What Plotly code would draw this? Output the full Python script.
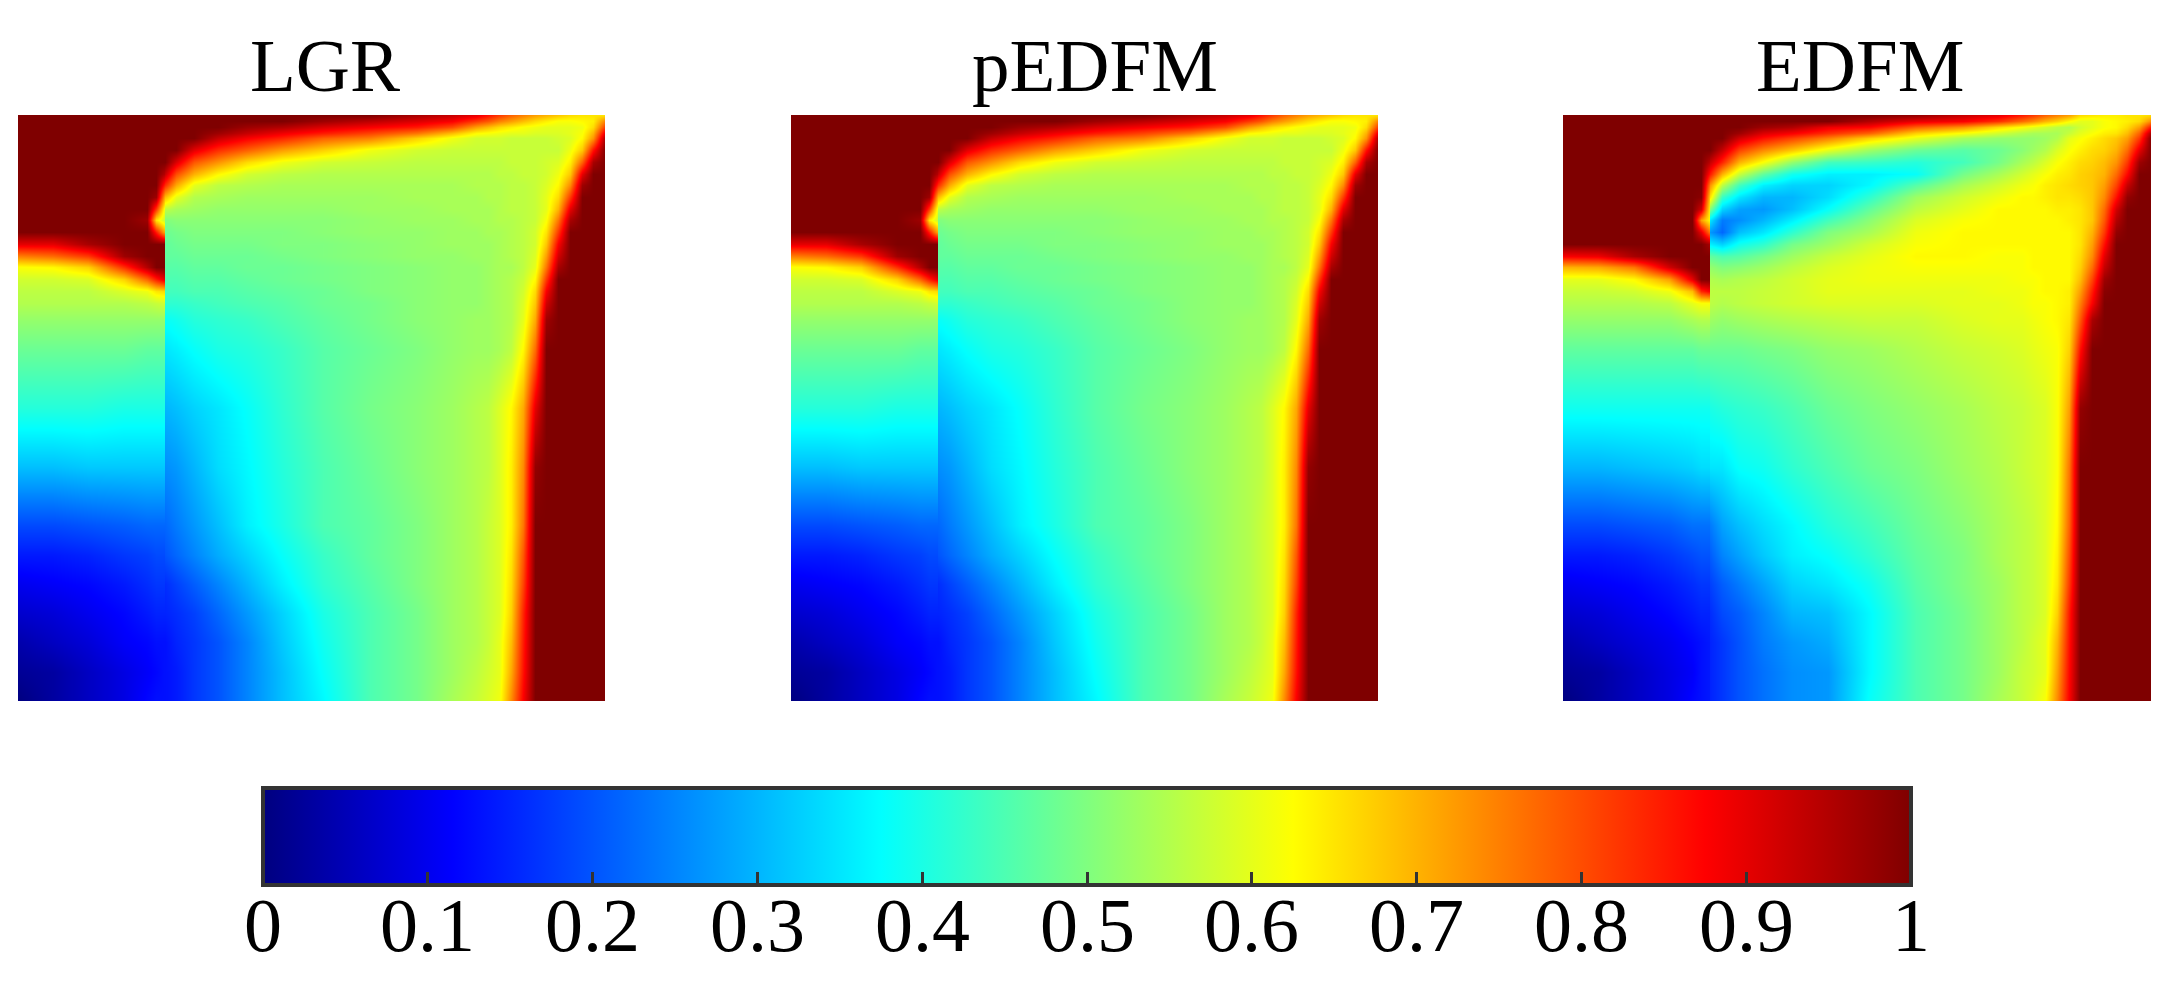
import plotly.graph_objects as go

TITLES = ["LGR", "pEDFM", "EDFM"]
TICK_VALUES = [0, 0.1, 0.2, 0.3, 0.4, 0.5, 0.6, 0.7, 0.8, 0.9, 1]
TICK_LABELS = ["0", "0.1", "0.2", "0.3", "0.4", "0.5", "0.6", "0.7", "0.8", "0.9", "1"]

# grid positions, percent of panel width / height from the top-left corner
X_PCT = [0, 6, 12, 18, 22, 23.5, 24.95, 25.05, 27, 30, 34, 39, 45, 52, 60, 68, 74, 78, 80, 82, 84, 86, 88, 90, 92, 94, 96, 98, 100]
Y_PCT = [0, 1, 2, 3, 4, 6, 8, 10, 12, 14, 16, 18, 20, 22, 24, 26, 28, 30, 32, 35, 40, 50, 60, 70, 75, 80, 85, 90, 95, 100]

# field values x100, one row per Y_PCT entry
LGR_VALUES = [
[100,100,100,100,100,100,100, 100,100,100,100,100,100,100,100,96,93,90,86,82,78,75,72,70,68,66,65,65,65],
[100,100,100,100,100,100,100, 100,100,100,100,100,100,97,94,91,88,82,79,75,72,69,66,64,62,62,63,64,75],
[100,100,100,100,100,100,100, 100,100,100,100,97,95,91,88,85,80,72,69,66,64,62,61,60,60,60,61,66,82],
[100,100,100,100,100,100,100, 100,100,100,97,93,89,85,81,76,69,63,62,61,60,60,59,59,59,60,62,70,90],
[100,100,100,100,100,100,100, 100,100,100,93,88,84,78,75,67,61,58,58,58,57,57,57,57,58,59,63,73,96],
[100,100,100,100,100,100,100, 100,100,90,83,78,72,67,61,58,57,57,57,57,57,57,57,57,57,61,68,86,100],
[100,100,100,100,100,100,100, 100,91,79,73,66,61,58,57,56,56,56,56,56,57,57,57,58,59,64,78,96,100],
[100,100,100,100,100,100,95, 93,80,70,63,58,56,55,55,55,55,55,55,56,56,57,57,58,61,68,90,100,100],
[100,100,100,100,100,100,85, 83,71,60,56,55,54,54,54,54,54,55,55,55,56,56,57,59,63,74,97,100,100],
[100,100,100,100,100,97,72, 69,60,55,54,53,53,53,53,54,54,54,55,55,56,56,57,60,66,82,100,100,100],
[100,100,100,100,100,82,62, 56,54,53,52,52,52,52,53,53,54,54,54,55,56,56,57,60,70,90,100,100,100],
[100,100,100,100,97,65,58, 50,51,51,51,51,51,51,52,53,53,54,54,55,55,56,57,62,76,96,100,100,100],
[100,100,100,100,100,85,72, 48,49,50,50,50,50,51,52,52,53,53,54,54,55,56,58,65,82,100,100,100,100],
[90,90,96,100,100,100,100, 47,48,49,49,49,50,50,51,52,53,53,53,54,55,56,58,68,88,100,100,100,100],
[75,77,82,97,100,100,100, 47,47,48,48,48,49,50,51,52,52,53,53,54,55,56,59,72,92,100,100,100,100],
[62,63,67,83,95,100,100, 46,46,47,47,48,48,49,50,51,52,52,53,54,54,56,60,76,96,100,100,100,100],
[58,58,59,67,78,85,90, 45,45,46,46,47,48,49,50,51,52,52,53,54,55,57,63,82,100,100,100,100,100],
[56,56,56,59,61,65,66, 44,44,45,45,46,47,48,50,51,52,52,53,54,55,58,66,88,100,100,100,100,100],
[55,55,55,55,56,57,58, 42,42,43,44,45,46,48,49,51,52,52,53,54,55,59,68,92,100,100,100,100,100],
[52,52,52,52,52,52,52, 38,39,41,42,43,45,47,49,51,52,53,53,54,55,60,71,97,100,100,100,100,100],
[48,48,48,48,47,47,47, 35,36,38,40,41,43,46,48,50,52,53,53,54,56,63,77,100,100,100,100,100,100],
[41,41,41,40,40,40,40, 30,31,33,35,38,42,46,49,51,53,55,56,59,63,71,90,100,100,100,100,100,100],
[31,31,32,32,32,32,32, 26,27,30,34,37,41,45,48,51,53,55,56,59,64,74,98,100,100,100,100,100,100],
[19,19,20,21,22,22,22, 22,24,27,31,36,40,45,47,50,53,55,57,59,64,76,100,100,100,100,100,100,100],
[14,14,15,17,18,19,19, 20,22,25,29,33,38,43,47,50,53,55,57,59,65,79,100,100,100,100,100,100,100],
[10,11,12,14,16,17,17, 16,18,21,25,30,36,42,46,50,53,55,57,59,66,81,100,100,100,100,100,100,100],
[7,8,10,12,14,15,15, 15,16,18,22,27,33,40,45,49,53,55,57,59,67,84,100,100,100,100,100,100,100],
[4,6,8,11,12,13,13, 13,15,17,20,25,32,39,45,49,53,55,57,60,69,85,100,100,100,100,100,100,100],
[2,3,6,9,11,12,13, 13,14,17,20,25,31,38,45,49,53,56,58,60,71,86,100,100,100,100,100,100,100],
[0,3,6,9,12,13,13, 13,14,17,20,25,31,37,45,49,54,57,59,61,74,88,100,100,100,100,100,100,100],
]

PEDFM_VALUES = LGR_VALUES

EDFM_VALUES = [
[100,100,100,100,100,100,100, 100,100,100,100,100,100,100,98,93,90,85,82,78,75,72,66,65,64,64,65,65,66],
[100,100,100,100,100,100,100, 100,100,100,100,100,100,95,90,88,83,77,74,70,67,63,60,60,62,63,64,66,74],
[100,100,100,100,100,100,100, 100,100,100,97,95,89,87,78,73,66,62,60,58,56,55,58,60,62,63,66,72,86],
[100,100,100,100,100,100,100, 100,100,97,91,88,83,78,67,62,58,55,54,54,54,57,60,62,64,65,69,78,96],
[100,100,100,100,100,100,100, 100,100,92,86,81,75,67,60,54,52,52,52,53,55,60,62,64,66,68,72,82,100],
[100,100,100,100,100,100,100, 100,93,81,74,68,60,53,48,46,48,51,53,55,59,62,64,66,67,70,77,90,100],
[100,100,100,100,100,100,94, 93,84,70,62,52,44,43,41,44,49,54,56,59,62,64,66,67,69,73,82,97,100],
[100,100,100,100,100,100,85, 85,70,57,47,39,36,36,38,49,54,58,60,62,64,65,67,68,70,77,87,100,100],
[100,100,100,100,100,100,74, 73,56,44,36,33,33,37,46,54,58,61,62,64,65,66,67,68,72,81,93,100,100],
[100,100,100,100,100,99,66, 65,43,35,30,30,34,42,53,58,61,63,63,64,65,65,66,68,74,86,98,100,100],
[100,100,100,100,100,92,62, 50,33,28,27,31,38,47,56,60,63,63,63,63,64,64,65,68,77,92,100,100,100],
[100,100,100,100,100,72,62, 35,24,26,30,36,44,51,59,62,63,63,63,63,63,64,65,68,79,95,100,100,100],
[100,100,100,100,100,90,75, 27,22,31,35,42,50,54,61,63,63,63,63,63,63,63,65,70,82,98,100,100,100],
[100,100,100,100,100,100,96, 36,33,39,42,49,53,58,62,63,63,63,63,63,63,63,65,72,86,100,100,100,100],
[88,89,96,100,100,100,100, 47,45,46,49,53,57,60,63,63,62,62,63,63,63,63,66,74,90,100,100,100,100],
[70,71,76,92,100,100,100, 52,50,51,53,56,59,61,62,62,62,62,63,63,63,63,67,77,93,100,100,100,100],
[60,60,63,72,90,100,100, 55,54,55,56,58,60,61,61,61,61,62,62,63,63,63,69,81,97,100,100,100,100],
[57,57,58,61,69,84,88, 56,56,56,57,58,60,60,60,60,61,61,62,63,63,64,72,85,99,100,100,100,100],
[55,55,55,56,60,62,62, 56,55,56,57,58,59,59,59,60,60,61,62,62,63,64,75,88,100,100,100,100,100],
[52,52,52,52,54,55,55, 53,52,53,54,55,56,57,57,59,60,60,61,62,63,65,79,96,100,100,100,100,100],
[47,47,47,47,47,48,48, 48,48,48,49,50,52,53,55,57,58,59,60,61,62,67,86,100,100,100,100,100,100],
[39,39,39,39,39,39,39, 40,41,42,43,45,48,50,52,54,56,57,58,59,62,72,98,100,100,100,100,100,100],
[30,30,31,32,33,34,34, 35,35,38,39,42,45,48,50,53,55,57,58,59,62,76,100,100,100,100,100,100,100],
[19,19,20,21,23,23,23, 24,28,31,34,37,41,44,48,51,54,56,57,59,63,78,100,100,100,100,100,100,100],
[14,14,15,17,19,20,20, 21,25,28,32,36,38,42,47,50,54,56,57,59,64,80,100,100,100,100,100,100,100],
[10,11,12,14,16,17,17, 18,21,24,28,33,35,39,46,50,53,56,57,59,65,82,100,100,100,100,100,100,100],
[7,8,10,12,14,15,15, 16,19,21,25,30,31,37,45,49,53,56,57,59,67,85,100,100,100,100,100,100,100],
[4,6,8,10,12,13,14, 15,17,20,24,27,29,37,45,49,53,56,58,60,70,86,100,100,100,100,100,100,100],
[2,3,6,9,11,13,14, 15,17,20,23,26,27,37,45,49,53,57,58,60,72,87,100,100,100,100,100,100,100],
[0,3,6,9,12,13,14, 15,17,20,23,26,27,38,45,49,54,57,59,62,74,88,100,100,100,100,100,100,100],
]

W, H = 2171, 987
PANELS_PX = [(18, 605), (791, 1378), (1563, 2151)]
PANEL_TOP, PANEL_BOTTOM = 115, 701
BAR_LEFT, BAR_RIGHT, BAR_TOP, BAR_BOTTOM = 263, 1911, 788, 885
TITLE_X_PX = [325, 1095, 1860]
TITLE_Y_PX = 66
TICK_TEXT_Y_PX = 925

JET = [[0, "#00007f"], [0.115, "#0000ff"], [0.375, "#00ffff"], [0.625, "#ffff00"], [0.875, "#ff0000"], [1, "#7f0000"]]
SERIF = "Liberation Serif"

fig = go.Figure()
layout_axes = {}
for i, (grid, (left, right)) in enumerate(zip([LGR_VALUES, PEDFM_VALUES, EDFM_VALUES], PANELS_PX), start=1):
    suffix = "" if i == 1 else str(i)
    fig.add_trace(go.Heatmap(
        x=X_PCT, y=Y_PCT, z=[[v / 100 for v in row] for row in grid],
        coloraxis="coloraxis", zsmooth="best", hoverinfo="skip",
        xaxis="x" + suffix, yaxis="y" + suffix))
    layout_axes["xaxis" + suffix] = dict(domain=[left / W, right / W], range=[0, 100], visible=False, anchor="y" + suffix)
    layout_axes["yaxis" + suffix] = dict(domain=[1 - PANEL_BOTTOM / H, 1 - PANEL_TOP / H], range=[100, 0], visible=False, anchor="x" + suffix)

title_notes = [
    dict(text=t, x=px / W, y=1 - TITLE_Y_PX / H, xref="paper", yref="paper",
         xanchor="center", yanchor="middle", showarrow=False,
         font=dict(family=SERIF, size=75, color="black"))
    for t, px in zip(TITLES, TITLE_X_PX)
]
tick_notes = [
    dict(text=label, x=(BAR_LEFT + v * (BAR_RIGHT - BAR_LEFT)) / W, y=1 - TICK_TEXT_Y_PX / H,
         xref="paper", yref="paper", xanchor="center", yanchor="middle", showarrow=False,
         font=dict(family=SERIF, size=76, color="black"))
    for v, label in zip(TICK_VALUES, TICK_LABELS)
]

fig.update_layout(
    width=W, height=H, margin=dict(l=0, r=0, t=0, b=0, pad=0, autoexpand=False),
    paper_bgcolor="white", plot_bgcolor="white", showlegend=False,
    coloraxis=dict(
        cmin=0, cmax=1, colorscale=JET,
        colorbar=dict(
            orientation="h", lenmode="pixels", len=BAR_RIGHT - BAR_LEFT,
            thicknessmode="pixels", thickness=BAR_BOTTOM - BAR_TOP,
            x=(BAR_LEFT + BAR_RIGHT) / 2 / W, xanchor="center",
            y=1 - BAR_TOP / H, yanchor="top", xpad=0, ypad=0,
            outlinecolor="#333333", outlinewidth=4,
            ticks="inside", ticklen=15, tickwidth=3, tickcolor="#333333",
            tickmode="array", tickvals=TICK_VALUES, ticktext=TICK_LABELS,
            showticklabels=False,
        ),
    ),
    annotations=title_notes + tick_notes,
    **layout_axes,
)

fig.write_html("out.html", config={"displayModeBar": False},
               post_script="document.body.style.margin='0';document.body.style.overflow='hidden';")
